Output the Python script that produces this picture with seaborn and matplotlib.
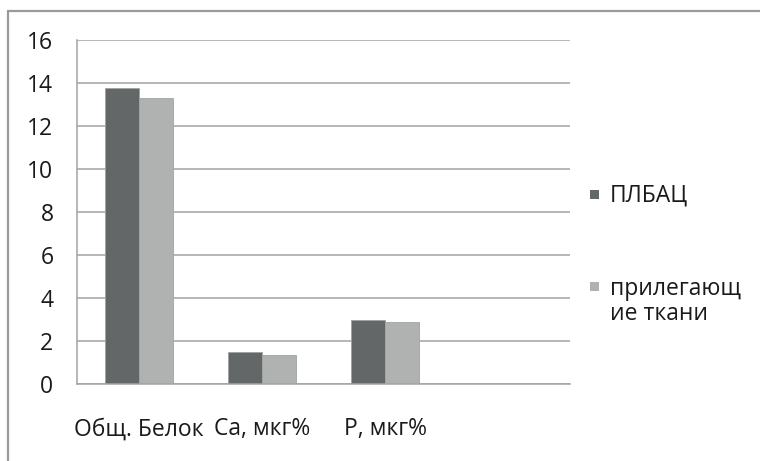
import matplotlib
matplotlib.use("Agg")
import matplotlib.pyplot as plt
import seaborn as sns
import pandas as pd
from matplotlib.lines import Line2D
from matplotlib.patches import Rectangle

# Chart data
categories = ["Общ. Белок", "Ca, мкг%", "P, мкг%", ""]
series_names = ["ПЛБАЦ", "прилегающие ткани"]
plbac_values = [13.75, 1.5, 3.0]
tissue_values = [13.3, 1.35, 2.9]
legend_lines = [["ПЛБАЦ"], ["прилегающ", "ие ткани"]]
y_ticks = [0, 2, 4, 6, 8, 10, 12, 14, 16]

dark = "#626867"
light = "#aeb2b1"
grid_color = "#a3a3a3"
text_color = "#1a1a1a"
fs = 16.5

sns.set_style("white")
plt.rcParams["font.family"] = ["Open Sans", "DejaVu Sans"]

rows = []
for cat, v in zip(categories, plbac_values):
    rows.append({"category": cat, "series": series_names[0], "value": v})
for cat, v in zip(categories, tissue_values):
    rows.append({"category": cat, "series": series_names[1], "value": v})
df = pd.DataFrame(rows)

fig = plt.figure(figsize=(7.6, 4.61), dpi=100)
ax = fig.add_axes([77 / 760, 1 - 384 / 461, (570 - 77) / 760, (384 - 40) / 461])

sns.barplot(data=df, x="category", y="value", hue="series",
            order=categories, hue_order=series_names,
            palette=[dark, light], width=0.553, errorbar=None,
            edgecolor="#9ea3a2", linewidth=0.6, legend=False, ax=ax)

ax.set_xlim(-0.5, len(categories) - 0.5)
ax.set_ylim(0, 16)
ax.set_yticks(y_ticks)
ax.set_yticklabels([str(t) for t in y_ticks])
ax.yaxis.grid(True, color=grid_color, linewidth=1.1)
ax.set_axisbelow(True)

# category labels at the centres, tick marks at the boundaries
ax.set_xticks(range(len(categories)))
ax.set_xticklabels(categories)
ax.set_xticks([i - 0.5 for i in range(len(categories) + 1)], minor=True)
ax.tick_params(axis="x", which="major", length=0, pad=24, labelsize=fs, labelcolor=text_color)
ax.tick_params(axis="x", which="minor", length=6, width=1.1, color=grid_color, direction="out")
ax.tick_params(axis="y", length=6, width=1.1, color=grid_color, direction="out", pad=11,
               labelsize=fs, labelcolor=text_color)
ax.set_xlabel("")
ax.set_ylabel("")

for side in ["top", "right"]:
    ax.spines[side].set_visible(False)
for side in ["left", "bottom"]:
    ax.spines[side].set_color(grid_color)
    ax.spines[side].set_linewidth(1.1)

# legend entries to the right of the plot
W, H = 760, 461
entries = [(dark, legend_lines[0], 194, [202]), (light, legend_lines[1], 286, [295, 320])]
for color, lines, yc, baselines in entries:
    fig.add_artist(Rectangle((590 / W, 1 - (yc + 4.5) / H), 9 / W, 9 / H,
                             transform=fig.transFigure, facecolor=color, edgecolor="none"))
    for line, yb in zip(lines, baselines):
        fig.text(610 / W, 1 - yb / H, line, fontsize=fs, color=text_color,
                 va="baseline", ha="left")

# outer chart frame
fig.add_artist(Line2D([8 / W, 1], [1 - 11 / H, 1 - 11 / H], transform=fig.transFigure,
                      color="#9a9a9a", linewidth=1.6))
fig.add_artist(Line2D([8 / W, 8 / W], [0, 1 - 11 / H], transform=fig.transFigure,
                      color="#9a9a9a", linewidth=1.6))

fig.savefig("out.png", dpi=100)
